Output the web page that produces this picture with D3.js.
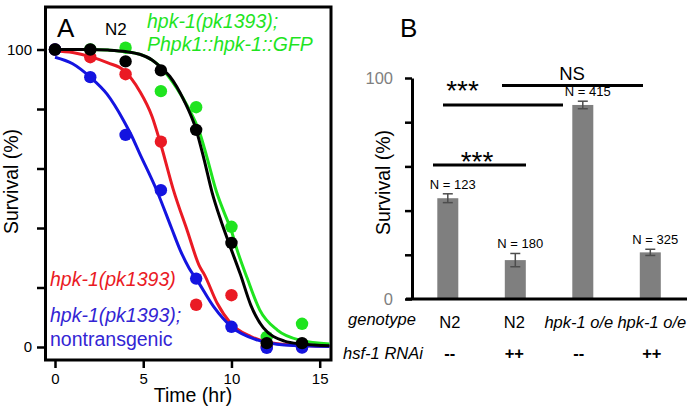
<!DOCTYPE html>
<html>
<head>
<meta charset="utf-8">
<script src="https://cdn.jsdelivr.net/npm/d3@7"></script>
<style>
  html, body { margin: 0; padding: 0; background: #fff; }
  svg { display: block; font-family: "Liberation Sans", Arial, sans-serif; }
</style>
</head>
<body>
<svg id="chart" width="688" height="409"></svg>
<script>
// ---------- Panel A data ----------
const times = [0, 2, 4, 6, 8, 10, 12, 14];
const n2Points      = [100, 100, 96, 93, 73, 35, 1.3, 1.3];
const gfpPoints     = [100, 100, 100.6, 86, 80.6, 40.4, 3.4, 7.8];
const pk1393Points  = [100, 97.4, 91.7, 69, 14.2, 17.4, 0, 0];
const nontgPoints   = [100, 90.7, 71.3, 52.7, 23, 6.8, -0.3, -0.2];

// fitted curves (time, survival)
const n2FitT   = [0, 2, 3, 4, 4.8, 5.5, 6, 6.5, 6.9, 7.3, 8, 8.45, 8.9, 9.4, 9.85, 10.5, 11.1, 11.8, 13, 14, 15.6];
const n2FitV   = [100, 100, 99.8, 99.3, 98.4, 96.5, 94, 91, 87.5, 83, 73, 63, 52, 42.5, 35, 24.5, 14, 6.5, 2, 1, 0.4];
const gfpFitT  = [0, 2, 4, 5, 6, 6.9, 7.5, 8.2, 8.6, 9.16, 9.6, 10, 10.3, 10.9, 11.6, 12.6, 13.9, 15.6];
const gfpFitV  = [100, 100, 99.3, 98, 94, 87, 81, 72, 64, 52, 45, 39, 33, 23, 12.5, 5.7, 2.3, 1];
const pkFitT   = [0, 1, 2, 3, 3.9, 4.8, 5.5, 6, 6.7, 7.5, 8.2, 8.45, 9.2, 9.95, 11.1, 13, 15.6];
const pkFitV   = [99.5, 99, 97.6, 95.5, 93, 86, 77.5, 68, 53, 39, 27, 24.5, 14.6, 8, 3.5, 0.8, 0.2];
const ntFitT   = [0, 1, 2, 2.95, 3.9, 4.3, 4.8, 5.76, 6.6, 7.1, 7.6, 8.05, 9, 10, 11.5, 13, 15.6];
const ntFitV   = [97.4, 95.2, 90.7, 85, 76, 71.5, 65, 52.7, 40, 32.5, 26.5, 22.5, 13.5, 6.8, 2.3, 0.7, 0.2];

const xTicksA = [0, 5, 10, 15];
const yTicksA = [0, 20, 40, 60, 80, 100];
const yLabelsA = [0, 100];

// ---------- Panel B data ----------
const genotypes = ["N2", "N2", "hpk-1 o/e", "hpk-1 o/e"];
const rnai = ["--", "++", "--", "++"];
const barValues = [45.6, 17.6, 87.8, 21.1];
const barErrors = [2, 3, 1.7, 1.4];
const nLabels = ["N = 123", "N = 180", "N = 415", "N = 325"];
const yTicksB = [0, 20, 40, 60, 80, 100];
const yLabelsB = [0, 100];

// ---------- colors ----------
const GREEN = "#1fe41f", RED = "#ea1a24", BLUE = "#1414e0", BLACK = "#000";
const BLUE_TEXT = "#3325d4";

const svg = d3.select("#chart");

// ================= Panel A =================
const xA = d3.scaleLinear().domain([0, 15]).range([55, 319.7]);
const yA = d3.scaleLinear().domain([0, 100]).range([347, 49.5]);

svg.append("defs").append("clipPath").attr("id", "clipA")
  .append("rect").attr("x", 47).attr("y", 8.5).attr("width", 282.5).attr("height", 350);

// frame
svg.append("rect").attr("x", 45.5).attr("y", 7).attr("width", 285.5).attr("height", 353)
  .attr("fill", "none").attr("stroke", "#000").attr("stroke-width", 3);

const axA_left = svg.append("g").attr("transform", "translate(45,0)")
  .call(d3.axisLeft(yA).tickValues(yTicksA).tickSize(8).tickSizeOuter(0).tickPadding(5)
    .tickFormat(d => yLabelsA.includes(d) ? d : ""));
axA_left.select(".domain").remove();
axA_left.selectAll("line").attr("stroke-width", 2.5);
axA_left.selectAll("text").attr("font-size", 15).attr("fill", "#000");

const axA_bottom = svg.append("g").attr("transform", "translate(0,360)")
  .call(d3.axisBottom(xA).tickValues(xTicksA).tickSize(8).tickSizeOuter(0).tickPadding(5));
axA_bottom.select(".domain").remove();
axA_bottom.selectAll("line").attr("stroke-width", 2.5);
axA_bottom.selectAll("text").attr("font-size", 15).attr("fill", "#000");

svg.append("text").attr("x", 193).attr("y", 402).attr("text-anchor", "middle")
  .attr("font-size", 19.5).text("Time (hr)");
svg.append("text").attr("transform", "translate(18,181.5) rotate(-90)").attr("text-anchor", "middle")
  .attr("font-size", 19.5).text("Survival (%)");

const line = d3.line().x(d => xA(d[0])).y(d => yA(d[1])).curve(d3.curveMonotoneX);
const plotA = svg.append("g").attr("clip-path", "url(#clipA)");

const series = [
  { fitT: gfpFitT, fitV: gfpFitV, pts: gfpPoints, color: GREEN },
  { fitT: pkFitT, fitV: pkFitV, pts: pk1393Points, color: RED },
  { fitT: ntFitT, fitV: ntFitV, pts: nontgPoints, color: BLUE },
  { fitT: n2FitT, fitV: n2FitV, pts: n2Points, color: BLACK }
];
series.forEach(s => {
  const g = plotA.append("g");
  g.append("path").datum(s.fitT.map((t, i) => [t, s.fitV[i]]))
    .attr("d", line).attr("fill", "none").attr("stroke", s.color).attr("stroke-width", 3);
  g.selectAll("circle").data(times.map((t, i) => [t, s.pts[i]])).join("circle")
    .attr("cx", d => xA(d[0])).attr("cy", d => yA(d[1])).attr("r", 6.2).attr("fill", s.color);
});

// labels panel A
svg.append("text").attr("x", 57).attr("y", 37).attr("font-size", 26).text("A");
svg.append("text").attr("x", 105).attr("y", 35).attr("font-size", 17).text("N2");
svg.append("text").attr("x", 147).attr("y", 28).attr("font-size", 19.5).attr("font-style", "italic")
  .attr("fill", GREEN).text("hpk-1(pk1393);");
svg.append("text").attr("x", 147).attr("y", 51).attr("font-size", 19.5).attr("font-style", "italic")
  .attr("fill", GREEN).text("Phpk1::hpk-1::GFP");
svg.append("text").attr("x", 50).attr("y", 286).attr("font-size", 19.5).attr("font-style", "italic")
  .attr("fill", RED).text("hpk-1(pk1393)");
svg.append("text").attr("x", 50).attr("y", 322).attr("font-size", 19.5).attr("font-style", "italic")
  .attr("fill", BLUE_TEXT).text("hpk-1(pk1393);");
svg.append("text").attr("x", 50).attr("y", 346).attr("font-size", 19.5)
  .attr("fill", BLUE_TEXT).text("nontransgenic");

// ================= Panel B =================
const xB = d3.scalePoint().domain(d3.range(genotypes.length)).range([447.8, 650.3]);
const yB = d3.scaleLinear().domain([0, 100]).range([299, 78]);
const barW = 21;

const axB_left = svg.append("g").attr("transform", "translate(412,0)")
  .call(d3.axisLeft(yB).tickValues(yTicksB).tickSize(7).tickSizeOuter(0).tickPadding(12)
    .tickFormat(d => yLabelsB.includes(d) ? d : ""));
axB_left.select(".domain").attr("stroke-width", 3);
axB_left.selectAll("line").attr("stroke-width", 2.5);
axB_left.selectAll("text").attr("font-size", 16.5).attr("fill", "#808080");

svg.append("text").attr("transform", "translate(390,182.5) rotate(-90)").attr("text-anchor", "middle")
  .attr("font-size", 19.5).text("Survival (%)");

// bars
const idx = d3.range(genotypes.length);
svg.append("g").selectAll("rect").data(idx).join("rect")
  .attr("x", i => xB(i) - barW / 2).attr("y", i => yB(barValues[i]))
  .attr("width", barW).attr("height", i => yB(0) - yB(barValues[i]))
  .attr("fill", "#7f7f7f");

// baseline
svg.append("line").attr("x1", 406).attr("x2", 687).attr("y1", yB(0)).attr("y2", yB(0))
  .attr("stroke", "#000").attr("stroke-width", 3);

// error bars
const eb = svg.append("g").attr("stroke", "#4d4d4d").attr("stroke-width", 1.5);
idx.forEach(i => {
  const cx = xB(i), top = yB(barValues[i] + barErrors[i]), bot = yB(barValues[i] - barErrors[i]);
  eb.append("line").attr("x1", cx).attr("x2", cx).attr("y1", top).attr("y2", bot);
  eb.append("line").attr("x1", cx - 5).attr("x2", cx + 5).attr("y1", top).attr("y2", top);
  eb.append("line").attr("x1", cx - 5).attr("x2", cx + 5).attr("y1", bot).attr("y2", bot);
});

// N labels
svg.append("g").selectAll("text").data(idx).join("text")
  .attr("x", i => xB(i) + 5).attr("y", i => yB(barValues[i] + barErrors[i]) - 5)
  .attr("text-anchor", "middle").attr("font-size", 13).text(i => nLabels[i]);

// significance lines
const sig = svg.append("g").attr("stroke", "#000").attr("stroke-width", 3);
sig.append("line").attr("x1", 443).attr("x2", 563).attr("y1", 105).attr("y2", 105);
sig.append("line").attr("x1", 502).attr("x2", 643).attr("y1", 85.5).attr("y2", 85.5);
sig.append("line").attr("x1", 433).attr("x2", 526).attr("y1", 165).attr("y2", 165);
svg.append("text").attr("x", 462.5).attr("y", 100).attr("text-anchor", "middle").attr("font-size", 28).text("***");
svg.append("text").attr("x", 477).attr("y", 171).attr("text-anchor", "middle").attr("font-size", 28).text("***");
svg.append("text").attr("x", 572).attr("y", 80).attr("text-anchor", "middle").attr("font-size", 18.5).text("NS");

// category rows (small horizontal nudges as in the original layout)
const rowNudge = [2, -1, -4, 1.5];
svg.append("text").attr("x", 382).attr("y", 325).attr("text-anchor", "middle")
  .attr("font-size", 16.5).attr("font-style", "italic").text("genotype");
svg.append("text").attr("x", 383).attr("y", 359).attr("text-anchor", "middle")
  .attr("font-size", 16.5).attr("font-style", "italic").text("hsf-1 RNAi");
svg.append("g").selectAll("text").data(idx).join("text")
  .attr("x", i => xB(i) + rowNudge[i]).attr("y", 328).attr("text-anchor", "middle").attr("font-size", 16.5)
  .attr("font-style", i => genotypes[i] === "N2" ? "normal" : "italic")
  .text(i => genotypes[i]);
svg.append("g").selectAll("text").data(idx).join("text")
  .attr("x", i => xB(i) + rowNudge[i]).attr("y", 359).attr("text-anchor", "middle").attr("font-size", 16.5)
  .attr("font-weight", "bold").text(i => rnai[i]);

svg.append("text").attr("x", 400).attr("y", 37).attr("font-size", 26).text("B");
</script>
</body>
</html>
